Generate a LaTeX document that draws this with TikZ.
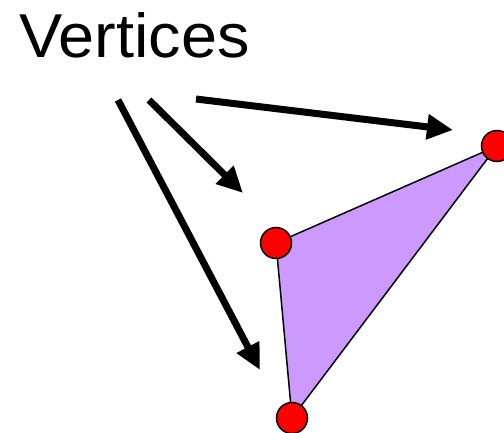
\documentclass[tikz,border=0pt]{standalone}
\usepackage{fontspec}
\setmainfont{Liberation Sans}
\usetikzlibrary{arrows.meta}
\definecolor{tri}{HTML}{CC99FF}
\tikzset{
  vtx/.style={circle, draw=black, fill=red, line width=1.5pt, minimum size=31pt, inner sep=0pt},
  ptr/.style={line width=7pt, -{Triangle[length=26pt,width=24pt]}, shorten >=0pt}
}
\begin{document}
\begin{tikzpicture}[x=1pt,y=-1pt]
\useasboundingbox (0,0) rectangle (504,433);
\node[anchor=base west, inner sep=0pt, font=\fontsize{62}{70}\selectfont] (lbl) at (19,57.5) {\scalebox{1.045}[1]{Vertices}};
\coordinate (A) at (497,146);
\coordinate (B) at (276,243);
\coordinate (C) at (292,418);
\filldraw[fill=tri, draw=black, line width=1.5pt] (A) -- (B) -- (C) -- cycle;
\node[vtx] (va) at (A) {};
\node[vtx] (vb) at (B) {};
\node[vtx] (vc) at (C) {};
\coordinate (s1) at (196,99);
\coordinate (t1) at (453,130);
\coordinate (s2) at (149,100);
\coordinate (t2) at (243,193);
\coordinate (s3) at (118,100);
\coordinate (t3) at (260,370);
\draw[ptr] (s1) -- (t1);
\draw[ptr] (s2) -- (t2);
\draw[ptr] (s3) -- (t3);
\end{tikzpicture}
\end{document}
